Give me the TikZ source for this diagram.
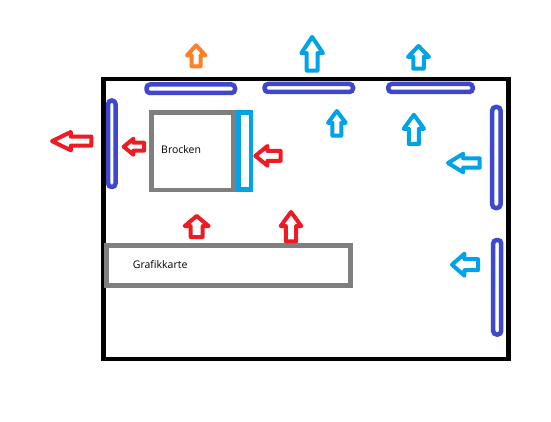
\documentclass[tikz,border=0pt]{standalone}
\usepackage{fontspec}
\setmainfont{Open Sans}
\definecolor{pred}{HTML}{ED1C24}
\definecolor{porange}{HTML}{FF7F27}
\definecolor{pcyan}{HTML}{00A2E8}
\definecolor{pindigo}{HTML}{3F48CC}
\definecolor{pgray}{HTML}{7F7F7F}
\tikzset{
  arr/.style={line width=4pt, line join=round, fill=white},
  fan/.style={draw=pindigo, line width=4.5pt, rounded corners=3.5pt},
  casebox/.style={draw=black, line width=4.5pt},
  partbox/.style={draw=pgray, line width=4.8pt},
  lbl/.style={font=\fontsize{10.5}{12}\selectfont, anchor=west, inner sep=0pt},
}
\newcommand\UpArr[5]{%
 \pgfmathsetmacro\arCX{(#1+#3)/2}\pgfmathsetmacro\arHW{(#3-#1)/2-2}%
 \pgfmathsetmacro\arTP{#2+2}\pgfmathsetmacro\arBT{#4-2}%
 \pgfmathsetmacro\arHB{\arTP+0.48*(\arBT-\arTP)}%
 \draw[arr,draw=#5] (\arCX,\arTP) -- (\arCX+\arHW,\arHB) -- (\arCX+\arHW/2,\arHB) -- (\arCX+\arHW/2,\arBT) -- (\arCX-\arHW/2,\arBT) -- (\arCX-\arHW/2,\arHB) -- (\arCX-\arHW,\arHB) -- cycle;}
\newcommand\LeftArr[5]{%
 \pgfmathsetmacro\arCY{(#2+#4)/2}\pgfmathsetmacro\arHW{(#4-#2)/2-2}%
 \pgfmathsetmacro\arTP{#1+2}\pgfmathsetmacro\arBT{#3-2}%
 \pgfmathsetmacro\arHB{\arTP+0.48*(\arBT-\arTP)}%
 \draw[arr,draw=#5] (\arTP,\arCY) -- (\arHB,\arCY+\arHW) -- (\arHB,\arCY+\arHW/2) -- (\arBT,\arCY+\arHW/2) -- (\arBT,\arCY-\arHW/2) -- (\arHB,\arCY-\arHW/2) -- (\arHB,\arCY-\arHW) -- cycle;}
\begin{document}
\begin{tikzpicture}[x=1pt,y=-1pt]
\useasboundingbox[fill=white] (0,0) rectangle (551,422);
% case
\draw[casebox] (103.5,79) rectangle (508.5,359);
% fans
\draw[fan] (146.5,84.5) rectangle (235,93);
\draw[fan] (264.5,84) rectangle (353,92);
\draw[fan] (388.2,84) rectangle (472.8,92);
\draw[fan] (108.2,100.5) rectangle (115.5,187);
\draw[fan] (492.2,107) rectangle (500.5,208);
\draw[fan] (493.2,240) rectangle (501.2,334.5);
% components
\node[partbox, minimum width=82pt, minimum height=77.5pt, inner sep=0pt] (brocken) at (192.5,151.3) {};
\node[lbl] at (161,150) {Brocken};
\draw[draw=pcyan, line width=4.5pt] (238.5,112.5) rectangle (251,189.5);
\node[partbox, minimum width=244pt, minimum height=40pt, inner sep=0pt] (gpu) at (228.5,265.5) {};
\node[lbl] at (132.7,264.5) {Grafikkarte};
% arrows
\LeftArr{50}{130}{93.3}{152.3}{pred}
\LeftArr{121.7}{136.7}{146}{156.7}{pred}
\LeftArr{253.3}{144}{282.7}{167.7}{pred}
\UpArr{185}{43.3}{207.3}{68.3}{porange}
\UpArr{299.3}{35}{325}{72.7}{pcyan}
\UpArr{406}{44}{431}{70.7}{pcyan}
\UpArr{326}{109}{347.7}{137.7}{pcyan}
\UpArr{401.7}{112.7}{426}{146}{pcyan}
\LeftArr{446}{151.7}{481.7}{174.3}{pcyan}
\LeftArr{450}{251.7}{480}{277.7}{pcyan}
\UpArr{182.7}{214}{210.7}{239}{pred}
\UpArr{278.7}{210}{303.3}{243.3}{pred}
\end{tikzpicture}
\end{document}
